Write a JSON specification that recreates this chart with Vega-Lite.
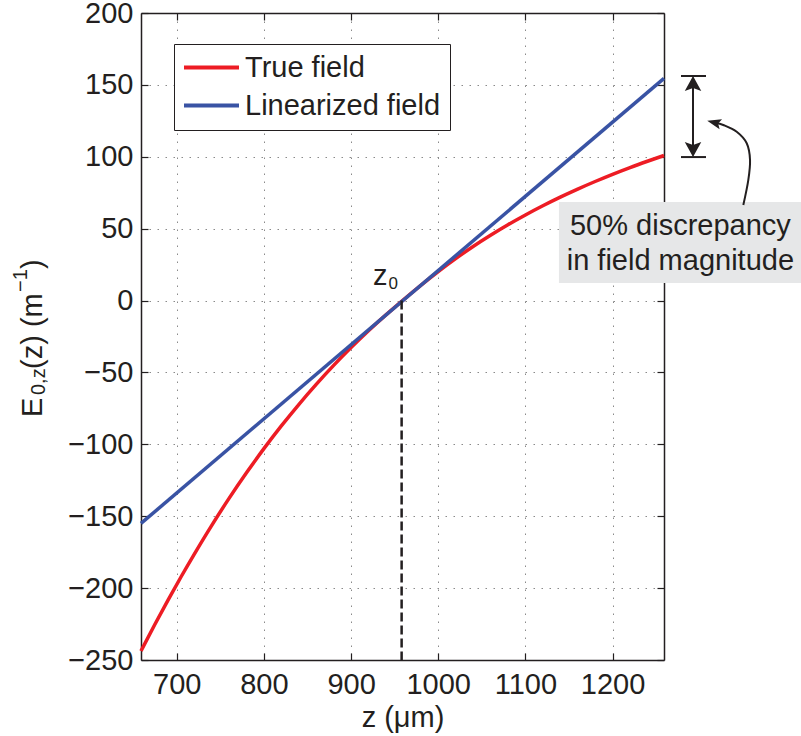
{
  "$schema": "https://vega.github.io/schema/vega-lite/v6.json",
  "width": 523,
  "height": 647,
  "autosize": {"type": "none"},
  "padding": {"left": 141, "top": 13, "right": 137, "bottom": 76},
  "background": "white",
  "config": {
    "view": {"stroke": null},
    "font": "Liberation Sans",
    "text": {"font": "Liberation Sans", "color": "#231F20"},
    "axis": {
      "labelFont": "Liberation Sans", "labelFontSize": 29, "labelColor": "#231F20",
      "titleFont": "Liberation Sans", "titleFontSize": 29, "titleFontWeight": "normal", "titleColor": "#231F20",
      "domainColor": "#231F20", "domainWidth": 1.5,
      "tickColor": "#231F20", "tickWidth": 1.2, "tickSize": -7,
      "gridColor": "#8a8a8a", "gridDash": [1.5, 6.5], "gridWidth": 1
    }
  },
  "layer": [
    {
      "data": {"values": [
        {"z": 659, "E": -243.7, "series": "True field"},
        {"z": 675, "E": -225.1, "series": "True field"},
        {"z": 690, "E": -208.3, "series": "True field"},
        {"z": 705, "E": -192.1, "series": "True field"},
        {"z": 720, "E": -176.5, "series": "True field"},
        {"z": 740, "E": -156.5, "series": "True field"},
        {"z": 760, "E": -137.6, "series": "True field"},
        {"z": 780, "E": -119.8, "series": "True field"},
        {"z": 800, "E": -103, "series": "True field"},
        {"z": 820, "E": -87.2, "series": "True field"},
        {"z": 840, "E": -72.3, "series": "True field"},
        {"z": 860, "E": -58.3, "series": "True field"},
        {"z": 880, "E": -45.1, "series": "True field"},
        {"z": 900, "E": -32.7, "series": "True field"},
        {"z": 920, "E": -21, "series": "True field"},
        {"z": 940, "E": -10, "series": "True field"},
        {"z": 959, "E": 0, "series": "True field"},
        {"z": 980, "E": 10.6, "series": "True field"},
        {"z": 1000, "E": 20.2, "series": "True field"},
        {"z": 1020, "E": 29.2, "series": "True field"},
        {"z": 1040, "E": 37.6, "series": "True field"},
        {"z": 1060, "E": 45.4, "series": "True field"},
        {"z": 1080, "E": 52.7, "series": "True field"},
        {"z": 1100, "E": 59.5, "series": "True field"},
        {"z": 1120, "E": 65.9, "series": "True field"},
        {"z": 1140, "E": 71.9, "series": "True field"},
        {"z": 1160, "E": 77.5, "series": "True field"},
        {"z": 1180, "E": 82.8, "series": "True field"},
        {"z": 1200, "E": 87.8, "series": "True field"},
        {"z": 1220, "E": 92.5, "series": "True field"},
        {"z": 1240, "E": 96.9, "series": "True field"},
        {"z": 1259, "E": 100.9, "series": "True field"}
      ]},
      "mark": {"type": "line", "strokeWidth": 3.5, "interpolate": "monotone"},
      "encoding": {
        "x": {"field": "z", "type": "quantitative",
          "scale": {"domain": [659, 1259], "nice": false, "zero": false},
          "axis": {"orient": "bottom", "values": [700, 800, 900, 1000, 1100, 1200], "format": "d", "title": "z (μm)", "grid": true, "labelPadding": 17, "titlePadding": 4}},
        "y": {"field": "E", "type": "quantitative",
          "scale": {"domain": [-250, 200], "nice": false, "zero": false},
          "axis": {"orient": "left", "values": [-250, -200, -150, -100, -50, 0, 50, 100, 150, 200], "format": "d", "title": null, "grid": true, "labelPadding": 15}},
        "color": {"field": "series", "type": "nominal",
          "scale": {"domain": ["True field", "Linearized field"], "range": ["#ED1C24", "#3953A4"]},
          "legend": {"orient": "none", "legendX": 33, "legendY": 31, "title": null,
            "strokeColor": "#231F20", "fillColor": "white", "padding": 9,
            "labelFont": "Liberation Sans", "labelFontSize": 29, "labelColor": "#231F20", "labelOffset": 19, "labelLimit": 500,
            "symbolType": "M-5,0H5", "symbolSize": 121, "symbolOffset": 14, "symbolStrokeWidth": 4, "rowPadding": 8}}
      }
    },
    {
      "data": {"values": [
        {"z": 659, "E": -155, "series": "Linearized field"},
        {"z": 1259, "E": 154.5, "series": "Linearized field"}
      ]},
      "mark": {"type": "line", "strokeWidth": 3.5},
      "encoding": {
        "x": {"field": "z", "type": "quantitative", "axis": null},
        "y": {"field": "E", "type": "quantitative", "axis": null},
        "color": {"field": "series", "type": "nominal"}
      }
    },
    {
      "data": {"values": [{"z": 958, "E": 0, "E2": -250}]},
      "mark": {"type": "rule", "strokeDash": [9, 4], "strokeWidth": 2.5, "color": "#231F20"},
      "encoding": {
        "x": {"field": "z", "type": "quantitative",
          "axis": {"orient": "top", "values": [700, 800, 900, 1000, 1100, 1200], "labels": false, "title": null, "grid": false}},
        "y": {"field": "E", "type": "quantitative",
          "axis": {"orient": "right", "values": [-250, -200, -150, -100, -50, 0, 50, 100, 150, 200], "labels": false, "title": null, "grid": false}},
        "y2": {"field": "E2"}
      }
    },
    {
      "data": {"values": [
        {"t": "z", "z": 925.2, "E": 10.8},
        {"t": "E", "z": 545.4, "E": -81.0},
        {"t": "(z) (m", "z": 545.4, "E": -47.6},
        {"t": ")", "z": 545.4, "E": 21.9}
      ]},
      "mark": {"type": "text", "fontSize": 29, "align": "left", "baseline": "alphabetic", "clip": false},
      "encoding": {
        "x": {"field": "z", "type": "quantitative", "axis": null},
        "y": {"field": "E", "type": "quantitative", "axis": null},
        "text": {"field": "t"},
        "angle": {"condition": {"test": "datum.t !== 'z'", "value": 270}, "value": 0}
      }
    },
    {
      "data": {"values": [
        {"t": "0", "z": 943.0, "E": 7.8}
      ]},
      "mark": {"type": "text", "fontSize": 17, "align": "left", "baseline": "alphabetic", "clip": false},
      "encoding": {
        "x": {"field": "z", "type": "quantitative", "axis": null},
        "y": {"field": "E", "type": "quantitative", "axis": null},
        "text": {"field": "t"}
      }
    },
    {
      "data": {"values": [
        {"t": "0,z", "z": 548.9, "E": -65.7},
        {"t": "−1", "z": 528.2, "E": 5.95}
      ]},
      "mark": {"type": "text", "fontSize": 20, "angle": 270, "align": "left", "baseline": "alphabetic", "clip": false},
      "encoding": {
        "x": {"field": "z", "type": "quantitative", "axis": null},
        "y": {"field": "E", "type": "quantitative", "axis": null},
        "text": {"field": "t"}
      }
    },
    {
      "data": {"values": [{"z": 1138.5, "z2": 1416.2, "E": 68.5, "E2": 12.2}]},
      "mark": {"type": "rect", "color": "#E6E7E8", "clip": false},
      "encoding": {
        "x": {"field": "z", "type": "quantitative", "axis": null},
        "x2": {"field": "z2"},
        "y": {"field": "E", "type": "quantitative", "axis": null},
        "y2": {"field": "E2"}
      }
    },
    {
      "data": {"values": [
        {"t": "50% discrepancy", "z": 1277.8, "E": 45.6},
        {"t": "in field magnitude", "z": 1277.8, "E": 21.3}
      ]},
      "mark": {"type": "text", "fontSize": 29, "align": "center", "baseline": "alphabetic", "clip": false},
      "encoding": {
        "x": {"field": "z", "type": "quantitative", "axis": null},
        "y": {"field": "E", "type": "quantitative", "axis": null},
        "text": {"field": "t"}
      }
    },
    {
      "data": {"values": [{"z": 1292.3, "E": 101, "E2": 155}]},
      "mark": {"type": "rule", "strokeWidth": 2, "color": "#231F20", "clip": false},
      "encoding": {
        "x": {"field": "z", "type": "quantitative", "axis": null},
        "y": {"field": "E", "type": "quantitative", "axis": null},
        "y2": {"field": "E2"}
      }
    },
    {
      "data": {"values": [
        {"z": 1278.5, "z2": 1307.2, "E": 156.2},
        {"z": 1278.5, "z2": 1307.2, "E": 99.8}
      ]},
      "mark": {"type": "rule", "strokeWidth": 2, "color": "#231F20", "clip": false},
      "encoding": {
        "x": {"field": "z", "type": "quantitative", "axis": null},
        "x2": {"field": "z2"},
        "y": {"field": "E", "type": "quantitative", "axis": null}
      }
    },
    {
      "data": {"values": [{"z": 1292.3, "E": 151.0}]},
      "mark": {"type": "point", "shape": "M0,-1L1.1,1L0,0.6L-1.1,1Z", "size": 225, "filled": true, "opacity": 1, "color": "#231F20", "strokeWidth": 0, "clip": false},
      "encoding": {
        "x": {"field": "z", "type": "quantitative", "axis": null},
        "y": {"field": "E", "type": "quantitative", "axis": null}
      }
    },
    {
      "data": {"values": [{"z": 1292.3, "E": 105.1}]},
      "mark": {"type": "point", "shape": "M0,-1L1.1,1L0,0.6L-1.1,1Z", "size": 225, "angle": 180, "filled": true, "opacity": 1, "color": "#231F20", "strokeWidth": 0, "clip": false},
      "encoding": {
        "x": {"field": "z", "type": "quantitative", "axis": null},
        "y": {"field": "E", "type": "quantitative", "axis": null}
      }
    },
    {
      "data": {"values": [
        {"k": 1, "z": 1350.0, "E": 66.5},
        {"k": 2, "z": 1355.7, "E": 83.8},
        {"k": 3, "z": 1357.7, "E": 97.8},
        {"k": 4, "z": 1353.9, "E": 109.4},
        {"k": 5, "z": 1342.4, "E": 117.4},
        {"k": 6, "z": 1327.0, "E": 122.1},
        {"k": 7, "z": 1318.6, "E": 123.5}
      ]},
      "mark": {"type": "line", "interpolate": "cardinal", "strokeWidth": 2, "color": "#231F20", "clip": false},
      "encoding": {
        "x": {"field": "z", "type": "quantitative", "axis": null},
        "y": {"field": "E", "type": "quantitative", "axis": null},
        "order": {"field": "k"}
      }
    },
    {
      "data": {"values": [{"z": 1316.4, "E": 123.8}]},
      "mark": {"type": "point", "shape": "M0,-1L0.72,1L0,0.6L-0.72,1Z", "size": 196, "angle": 284, "filled": true, "opacity": 1, "color": "#231F20", "strokeWidth": 0, "clip": false},
      "encoding": {
        "x": {"field": "z", "type": "quantitative", "axis": null},
        "y": {"field": "E", "type": "quantitative", "axis": null}
      }
    }
  ],
  "resolve": {"axis": {"x": "independent", "y": "independent"}}
}
